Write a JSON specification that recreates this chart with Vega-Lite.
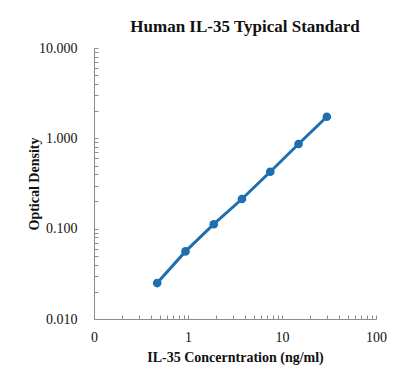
{
  "$schema": "https://vega.github.io/schema/vega-lite/v6.json",
  "width": 282,
  "height": 271,
  "autosize": {"type": "none"},
  "padding": {"left": 94, "top": 48, "right": 29, "bottom": 64},
  "background": "white",
  "title": {
    "text": "Human IL-35 Typical Standard",
    "font": "Liberation Serif",
    "fontSize": 17,
    "fontWeight": "bold",
    "color": "#111111",
    "anchor": "middle",
    "dx": 10,
    "offset": 5
  },
  "config": {
    "view": {"stroke": null},
    "axis": {
      "grid": false,
      "domainColor": "#8c8c8c",
      "tickColor": "#8c8c8c",
      "labelFont": "Liberation Serif",
      "labelFontSize": 14,
      "labelColor": "#111111",
      "titleFont": "Liberation Serif",
      "titleFontSize": 14,
      "titleFontWeight": "bold",
      "titleColor": "#111111"
    }
  },
  "data": {
    "values": [
      {"conc": 0.47, "od": 0.025},
      {"conc": 0.94, "od": 0.056},
      {"conc": 1.88, "od": 0.112},
      {"conc": 3.75, "od": 0.213},
      {"conc": 7.5, "od": 0.427},
      {"conc": 15, "od": 0.865},
      {"conc": 30, "od": 1.735}
    ]
  },
  "encoding": {
    "x": {
      "field": "conc",
      "type": "quantitative",
      "scale": {"type": "log", "domain": [0.1, 100], "nice": false},
      "axis": {
        "title": "IL-35 Concerntration (ng/ml)",
        "values": [0.1,0.2,0.3,0.4,0.5,0.6,0.7,0.8,0.9,1,2,3,4,5,6,7,8,9,10,20,30,40,50,60,70,80,90,100],
        "labelExpr": "datum.value < 0.15 ? '0' : (abs(log(datum.value)/LN10 - round(log(datum.value)/LN10)) < 0.001 ? format(datum.value, 'd') : '')",
        "tickSize": -4,
        "labelPadding": 15,
        "titlePadding": 6,
        "labelFlush": false,
        "labelOverlap": false
      }
    },
    "y": {
      "field": "od",
      "type": "quantitative",
      "scale": {"type": "log", "domain": [0.01, 10], "nice": false},
      "axis": {
        "title": "Optical Density",
        "values": [0.01,0.02,0.03,0.04,0.05,0.06,0.07,0.08,0.09,0.1,0.2,0.3,0.4,0.5,0.6,0.7,0.8,0.9,1,2,3,4,5,6,7,8,9,10],
        "labelExpr": "abs(log(datum.value)/LN10 - round(log(datum.value)/LN10)) < 0.001 ? format(datum.value, '.3f') : ''",
        "tickSize": -4,
        "labelPadding": 21,
        "titlePadding": -3,
        "labelFlush": false,
        "labelOverlap": false
      }
    }
  },
  "layer": [
    {"mark": {"type": "line", "color": "#1f6eb0", "strokeWidth": 3}},
    {"mark": {"type": "point", "filled": true, "color": "#1f6eb0", "size": 75, "opacity": 1}}
  ]
}
